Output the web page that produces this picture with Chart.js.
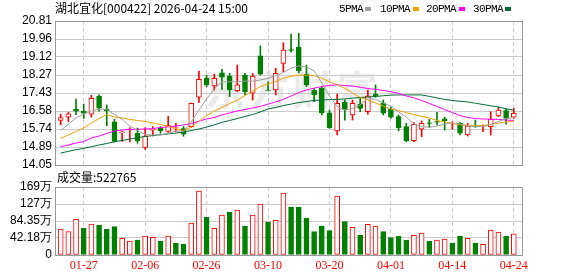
<!DOCTYPE html>
<html><head><meta charset="utf-8">
<script src="https://cdn.jsdelivr.net/npm/chart.js@4.4.1/dist/chart.umd.min.js"></script>
<style>
html,body{margin:0;padding:0;background:#fff;}
#wrap{position:relative;width:578px;height:276px;overflow:hidden;background:#fff;}
canvas{position:absolute;left:0;top:0;}
.t{position:absolute;white-space:nowrap;}
#title{left:55px;top:1px;font:12px/14px "Noto Sans CJK SC",sans-serif;color:#000;}
#vlabel{left:57px;top:170px;font:12px/14px "Noto Sans CJK SC",sans-serif;color:#000;}
#wm{left:205px;top:66px;font:bold 40px/44px "Noto Sans CJK SC",sans-serif;color:#ebebeb;letter-spacing:4px;}
.lg{position:absolute;top:3px;font:11px/12px "Liberation Mono",monospace;letter-spacing:-0.6px;color:#000;text-align:right;}
.sq{position:absolute;top:7px;width:6px;height:4px;}
</style></head><body>
<div id="wrap">
<div class="t" id="wm">东方财富</div>
<canvas id="pc" width="578" height="276"></canvas>
<canvas id="vc" width="578" height="276"></canvas>
<div class="t" id="title">湖北宜化[000422] 2026-04-24 15:00</div>
<div id="legend"></div>
<div class="t" id="vlabel"></div>
</div>
<script>
// ---- data ----
const dates = ["01-22","01-23","01-26","01-27","01-28","01-29","01-30","02-02","02-03","02-04",
"02-05","02-06","02-09","02-10","02-11","02-12","02-13","02-24","02-25","02-26",
"02-27","03-02","03-03","03-04","03-05","03-06","03-09","03-10","03-11","03-12",
"03-13","03-16","03-17","03-18","03-19","03-20","03-23","03-24","03-25","03-26",
"03-27","03-30","03-31","04-01","04-02","04-03","04-07","04-08","04-09","04-10",
"04-13","04-14","04-15","04-16","04-17","04-20","04-21","04-22","04-23","04-24"];
const shownDates = ["01-27","02-06","02-26","03-10","03-20","04-01","04-14","04-24"];
const openP = [16.14,16.29,16.67,16.57,16.44,17.27,16.66,16.08,15.56,15.70,
15.54,14.87,15.68,15.80,15.63,15.78,15.76,15.85,17.23,18.12,
17.76,18.38,18.23,17.54,18.27,17.42,19.17,17.57,17.57,18.82,
19.47,19.58,18.31,17.57,17.65,16.50,15.65,16.99,16.40,16.91,
16.55,17.38,16.97,16.66,16.32,15.85,15.19,15.73,16.03,16.09,
16.22,15.99,16.01,15.46,15.87,15.86,15.85,16.35,16.60,16.29];
const closeP = [16.28,16.45,16.58,16.48,17.18,16.72,16.59,15.16,15.61,15.74,
15.18,15.41,15.72,15.66,15.90,15.81,15.50,16.95,18.07,17.81,
18.12,18.17,17.57,17.81,17.49,18.23,18.31,17.55,18.35,19.45,
19.43,18.48,17.81,17.34,16.50,15.80,16.95,16.63,16.95,16.71,
17.29,17.31,16.48,16.29,15.80,15.18,15.96,16.01,16.00,16.06,
16.13,16.02,15.54,15.88,15.84,15.89,16.20,16.63,16.24,16.48];
const highP = [16.44,16.53,17.15,16.91,17.32,17.34,16.87,16.20,15.62,15.80,
15.78,15.79,15.85,15.85,16.34,16.01,15.85,16.96,18.46,18.27,
18.32,18.54,18.35,18.74,18.35,18.35,19.64,17.96,18.59,19.79,
20.20,20.23,18.74,17.65,17.73,16.63,17.38,17.10,17.10,17.23,
17.57,17.81,17.10,16.76,16.40,16.01,16.04,16.12,16.20,16.52,
16.29,16.08,16.04,16.01,16.16,15.93,16.55,16.76,16.66,16.71];
const lowP = [15.93,16.08,16.41,16.24,16.30,16.58,15.89,15.13,15.16,15.14,
15.07,14.78,15.41,15.54,15.58,15.61,15.40,15.82,16.99,17.73,
17.57,17.60,17.26,17.49,17.34,17.10,18.27,17.55,17.34,18.43,
19.35,18.38,17.73,17.02,16.40,15.77,15.46,16.16,16.16,16.55,
16.44,17.23,16.40,16.24,15.65,15.14,15.14,15.38,15.82,15.93,
15.69,15.73,15.46,15.41,15.82,15.61,15.46,16.32,15.97,16.24];
const ma5 = [15.67,15.97,16.26,16.44,16.59,16.67,16.66,16.42,16.19,15.88,
15.67,15.48,15.46,15.46,15.53,15.65,15.62,16.07,16.63,17.15,
17.62,17.95,17.96,17.96,17.99,17.99,18.04,18.12,18.25,18.39,
18.60,18.70,18.66,18.46,17.90,17.29,16.80,16.63,16.70,16.87,
17.17,17.13,16.96,16.82,16.54,16.30,15.97,15.85,15.82,15.88,
15.97,16.02,15.97,15.88,15.85,15.86,15.95,16.09,16.23,16.28];
const ma10 = [15.30,15.46,15.62,15.79,16.02,16.23,16.42,16.30,16.26,16.19,
16.14,16.09,16.02,15.95,15.86,15.76,15.65,15.83,16.11,16.37,
16.58,16.75,16.94,17.10,17.31,17.52,17.73,17.85,17.97,18.13,
18.21,18.27,18.27,18.25,18.13,17.95,17.82,17.65,17.43,17.22,
17.10,16.96,16.82,16.68,16.61,16.51,16.42,16.33,16.26,16.14,
16.07,16.00,15.94,15.91,15.89,15.90,15.95,16.02,16.07,16.11];
const ma20 = [14.91,14.99,15.08,15.15,15.32,15.41,15.53,15.65,15.69,15.72,
15.73,15.74,15.76,15.81,15.84,15.88,15.93,15.99,16.11,16.21,
16.28,16.40,16.49,16.59,16.65,16.73,16.80,16.91,17.01,17.13,
17.29,17.45,17.57,17.66,17.73,17.79,17.81,17.78,17.75,17.70,
17.64,17.60,17.55,17.49,17.41,17.29,17.20,17.08,16.94,16.80,
16.65,16.51,16.37,16.28,16.23,16.21,16.20,16.19,16.16,16.14];
const ma30 = [14.61,14.69,14.77,14.83,14.91,14.99,15.06,15.14,15.20,15.27,
15.33,15.39,15.43,15.47,15.51,15.55,15.60,15.67,15.74,15.83,
15.93,16.05,16.14,16.23,16.33,16.42,16.54,16.68,16.75,16.84,
16.91,16.98,17.03,17.08,17.10,17.12,17.13,17.15,17.19,17.22,
17.24,17.27,17.30,17.33,17.34,17.34,17.34,17.34,17.27,17.20,
17.13,17.08,17.04,17.01,16.95,16.89,16.83,16.77,16.69,16.62];
const volume = [645000,579000,885000,670000,769000,744000,645000,703000,414000,347000,
372000,471000,438000,347000,471000,298000,273000,794000,1588000,935000,
662000,992000,1067000,1116000,720000,992000,1265000,819000,860000,1538000,
1191000,1191000,918000,579000,720000,604000,1464000,827000,686000,496000,
761000,720000,579000,430000,471000,372000,488000,546000,347000,372000,
397000,298000,471000,414000,298000,265000,620000,571000,471000,522765];
const priceTicks = [20.81,19.96,19.12,18.27,17.43,16.58,15.74,14.89,14.05];
const volTicks = [0,421800,843500,1265000,1687000];
const volTickLabels = ["0","42.18万","84.35万","127万","169万"];
const maNames = ["5PMA","10PMA","20PMA","30PMA"];
const stockTitle = "湖北宜化[000422] 2026-04-24 15:00";
const volName = "成交量";

// ---- styles ----
const RED = '#ff0000', GREEN = '#008000';
const maColors = ['#a0a0a0','#f0a000','#ff00ff','#006a33'];
const GRID = '#cccccc';
const N = dates.length;
const idx = dates.map((d,i)=>i);
const tickIdx = idx.filter(i=>shownDates.includes(dates[i]));
const up = idx.map(i=>closeP[i] >= openP[i]);
const volUp = idx.map(i=> i===0 ? true : closeP[i] >= closeP[i-1]);
const X_MIN = -0.74, X_MAX = 60.07;

document.getElementById('title').textContent = stockTitle;
document.getElementById('vlabel').textContent = volName + ':' + volume[N-1];
const lgPos = [[363,365],[410,413],[456,459],[503,505]];
const lg = document.getElementById('legend');
maNames.forEach((n,k)=>{
  const s = document.createElement('div'); s.className='lg'; s.textContent=n;
  s.style.right = (578 - lgPos[k][0]) + 'px'; lg.appendChild(s);
  const q = document.createElement('div'); q.className='sq';
  q.style.left = lgPos[k][1]+'px'; q.style.background = maColors[k]; lg.appendChild(q);
});

const framePlugin = {id:'frame', afterDraw(chart){
  const a = chart.chartArea, c = chart.ctx;
  c.save(); c.strokeStyle = '#999999'; c.lineWidth = 1;
  c.strokeRect(Math.round(a.left)+0.5, Math.round(a.top)+0.5, Math.round(a.right-a.left), Math.round(a.bottom-a.top));
  c.restore();
}};

const xScaleBase = (showLabels)=>({
  type:'linear', bounds:'data', min:X_MIN, max:X_MAX, offset:false,
  afterBuildTicks: s=>{ s.ticks = tickIdx.map(v=>({value:v})); },
  grid:{color:GRID, lineWidth:1, drawTicks:false, offset:false},
  border:{display:false, dash:[4,3]},
  ticks: showLabels ? {
    display:true, autoSkip:false, maxRotation:0, minRotation:0, padding:4, color:RED,
    font:{family:'"Liberation Serif", serif', size:12},
    callback: v => dates[v]
  } : {display:false},
  afterFit: s=>{ s.height = showLabels ? 21 : 0; }
});

const lineDs = (arr,k)=>({type:'line', data: idx.map(i=>({x:i,y:arr[i]})), borderColor:maColors[k],
  borderWidth:1, pointRadius:0, tension:0, fill:false, order:0});

Chart.defaults.animation = false;

new Chart(document.getElementById('pc'), {
  type:'bar',
  data:{datasets:[
    {type:'bar', data: idx.map(i=>({x:i, y:[lowP[i], highP[i]]})), backgroundColor: idx.map(i=>up[i]?RED:GREEN),
     borderWidth:0, barThickness:1, grouped:false, order:3},
    {type:'bar', data: idx.map(i=>({x:i, y:[openP[i], closeP[i]]})), backgroundColor: idx.map(i=>up[i]?'#ffffff':GREEN),
     borderColor: idx.map(i=>up[i]?RED:GREEN), borderWidth:1, borderSkipped:false, barThickness:5, grouped:false, order:2},
    lineDs(ma5,0), lineDs(ma10,1), lineDs(ma20,2), lineDs(ma30,3)
  ]},
  options:{
    responsive:false, devicePixelRatio:1, animation:false,
    layout:{padding:{top:21, right:56, bottom:111, left:0}},
    plugins:{legend:{display:false}, tooltip:{enabled:false}},
    scales:{
      x: xScaleBase(false),
      y:{type:'linear', position:'left', bounds:'data', min:priceTicks[priceTicks.length-1], max:priceTicks[0],
        afterBuildTicks: s=>{ s.ticks = priceTicks.map(v=>({value:v})); },
        grid:{color:GRID, lineWidth:1, drawTicks:false}, border:{display:false},
        ticks:{autoSkip:false, padding:3, color:'#000', font:{family:'"Liberation Sans", Arial, sans-serif', size:12}, callback: v=>v.toFixed(2)},
        afterFit: s=>{ s.width = 55; }}
    }
  },
  plugins:[framePlugin]
});

new Chart(document.getElementById('vc'), {
  type:'bar',
  data:{datasets:[
    {type:'bar', data: idx.map(i=>({x:i, y:volume[i]})), backgroundColor: idx.map(i=>volUp[i]?'#ffffff':GREEN),
     borderColor: idx.map(i=>volUp[i]?RED:GREEN), borderWidth:1, borderSkipped:false, barThickness:5, grouped:false}
  ]},
  options:{
    responsive:false, devicePixelRatio:1, animation:false,
    layout:{padding:{top:187, right:56, bottom:0, left:0}},
    plugins:{legend:{display:false}, tooltip:{enabled:false}},
    scales:{
      x: xScaleBase(true),
      y:{type:'linear', position:'left', bounds:'data', min:volTicks[0], max:volTicks[volTicks.length-1],
        afterBuildTicks: s=>{ s.ticks = volTicks.map(v=>({value:v})); },
        grid:{color:GRID, lineWidth:1, drawTicks:false}, border:{display:false},
        ticks:{autoSkip:false, padding:3, color:'#000', font:{family:'"Liberation Sans", Arial, sans-serif', size:12},
          callback: v=>{ const j = volTicks.indexOf(v); return j>=0 ? volTickLabels[j] : ''; }},
        afterFit: s=>{ s.width = 55; }}
    }
  },
  plugins:[framePlugin]
});
</script>
</body></html>
